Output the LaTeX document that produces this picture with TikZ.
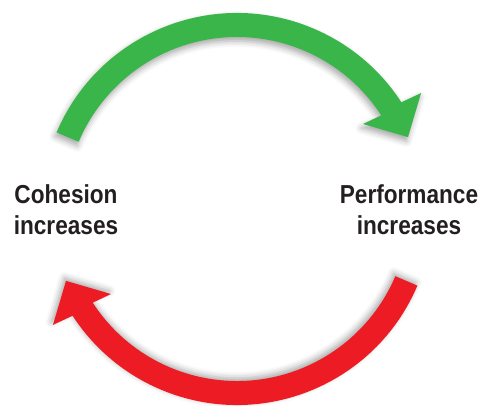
\documentclass[tikz,border=0pt]{standalone}
\usepackage{fontspec}
\newfontfamily\labfont[FakeStretch=0.87]{Liberation Sans}
\usetikzlibrary{shadows.blur}
\definecolor{cygreen}{HTML}{3AB54A}
\definecolor{cyred}{HTML}{ED1C24}
\definecolor{cytext}{HTML}{231F20}
\tikzset{
  lab/.style={font=\labfont\bfseries\fontsize{26}{31}\selectfont, text=cytext, align=center, inner sep=0pt},
}
\begin{document}
\begin{tikzpicture}[x=1pt,y=1pt]
\useasboundingbox (0,0) rectangle (485,405);
\coordinate (C) at (237,196);
% green arrow (top)
\begin{scope}[shift={(C)}]
\fill[cygreen, blur shadow={shadow xshift=-1.5pt, shadow yshift=-4pt, shadow opacity=35, shadow blur radius=6pt}]
  (157:196) arc[start angle=157, end angle=33, radius=196]
  -- (32.2:217.5) -- (22.8:185.5) -- (34:152) -- (33:172)
  arc[start angle=33, end angle=157, radius=172] -- cycle;
\end{scope}
% red arrow (bottom)
\begin{scope}[shift={(C)}]
\fill[cyred, blur shadow={shadow xshift=-1.5pt, shadow yshift=3pt, shadow opacity=35, shadow blur radius=6pt}]
  (-23:196) arc[start angle=-23, end angle=-147, radius=196]
  -- (-147.8:217.5) -- (-157.2:185.5) -- (-146:152) -- (-147:172)
  arc[start angle=-147, end angle=-23, radius=172] -- cycle;
\end{scope}
\node[lab] (coh) at (66,195) {Cohesion\\increases};
\node[lab] (perf) at (409,195) {Performance\\increases};
\end{tikzpicture}
\end{document}
